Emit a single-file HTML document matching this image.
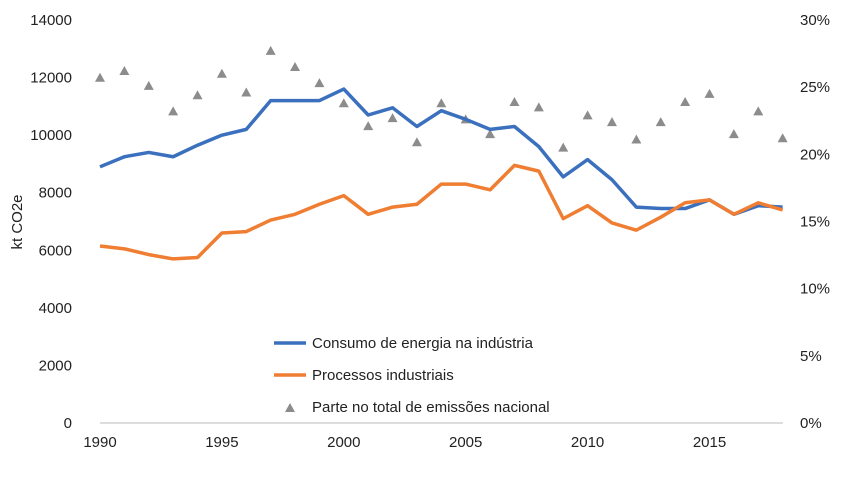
<!DOCTYPE html>
<html><head><meta charset="utf-8"><style>
body{margin:0;background:#fff;font-family:"Liberation Sans",sans-serif}
svg text{font-family:"Liberation Sans",sans-serif;font-size:15px;fill:#222}
</style></head><body>
<svg id="c" width="849" height="472"></svg>
<script>
const years=[1990,1991,1992,1993,1994,1995,1996,1997,1998,1999,2000,2001,2002,2003,2004,2005,2006,2007,2008,2009,2010,2011,2012,2013,2014,2015,2016,2017,2018];
const energia=[8900,9250,9400,9250,9650,10000,10200,11200,11200,11200,11600,10700,10950,10300,10850,10550,10200,10300,9600,8550,9150,8450,7500,7450,7450,7750,7250,7550,7500];
const processos=[6150,6050,5850,5700,5750,6600,6650,7050,7250,7600,7900,7250,7500,7600,8300,8300,8100,8950,8750,7100,7550,6950,6700,7150,7650,7750,7250,7650,7400];
const parte=[25.7,26.2,25.1,23.2,24.4,26.0,24.6,27.7,26.5,25.3,23.8,22.1,22.7,20.9,23.8,22.6,21.5,23.9,23.5,20.5,22.9,22.4,21.1,22.4,23.9,24.5,21.5,23.2,21.2];
const leftTicks=[0,2000,4000,6000,8000,10000,12000,14000];
const rightTicks=[0,5,10,15,20,25,30];
const xTicks=[1990,1995,2000,2005,2010,2015];
const NS="http://www.w3.org/2000/svg",svg=document.getElementById('c');
const X=y=>100+(y-1990)*24.38, Y=v=>423-v/14000*403, R=p=>423-p/30*403;
function mk(t,a,txt){const e=document.createElementNS(NS,t);for(const k in a)e.setAttribute(k,a[k]);if(txt!==undefined)e.textContent=txt;svg.appendChild(e);return e;}
let e=mk('line',{x1:100,x2:783,y1:423,y2:423,stroke:'#bbb','stroke-width':1});


leftTicks.forEach(v=>{const t=mk('text',{x:72,y:Y(v)+5,'text-anchor':'end'},v);

});
rightTicks.forEach(v=>{const t=mk('text',{x:800,y:R(v)+5},v+'%');

});
xTicks.forEach(v=>{const t=mk('text',{x:X(v),y:447,'text-anchor':'middle'},v);

});
e=mk('text',{x:0,y:0,transform:'translate(22,222) rotate(-90)','text-anchor':'middle','font-size':'14'},'kt CO2e');


parte.forEach((p,i)=>{const x=X(years[i]),y=R(p);const t=mk('polygon',{points:`${x-5},${y+4} ${x+5},${y+4} ${x},${y-5}`,fill:'#8c8c8c'});

});
e=mk('polyline',{points:energia.map((v,i)=>X(years[i])+','+Y(v)).join(' '),fill:'none',stroke:'#3a70bd','stroke-width':3.5,'stroke-linejoin':'round'});


e=mk('polyline',{points:processos.map((v,i)=>X(years[i])+','+Y(v)).join(' '),fill:'none',stroke:'#ef7d32','stroke-width':3.5,'stroke-linejoin':'round'});


e=mk('line',{x1:274,x2:306,y1:343,y2:343,stroke:'#3a70bd','stroke-width':3.5});


e=mk('text',{x:312,y:348},'Consumo de energia na indústria');


e=mk('line',{x1:274,x2:306,y1:375,y2:375,stroke:'#ef7d32','stroke-width':3.5});


e=mk('text',{x:312,y:380},'Processos industriais');


e=mk('polygon',{points:'285,412 295,412 290,403',fill:'#8c8c8c'});


e=mk('text',{x:312,y:412},'Parte no total de emissões nacional');


</script>
</body></html>
